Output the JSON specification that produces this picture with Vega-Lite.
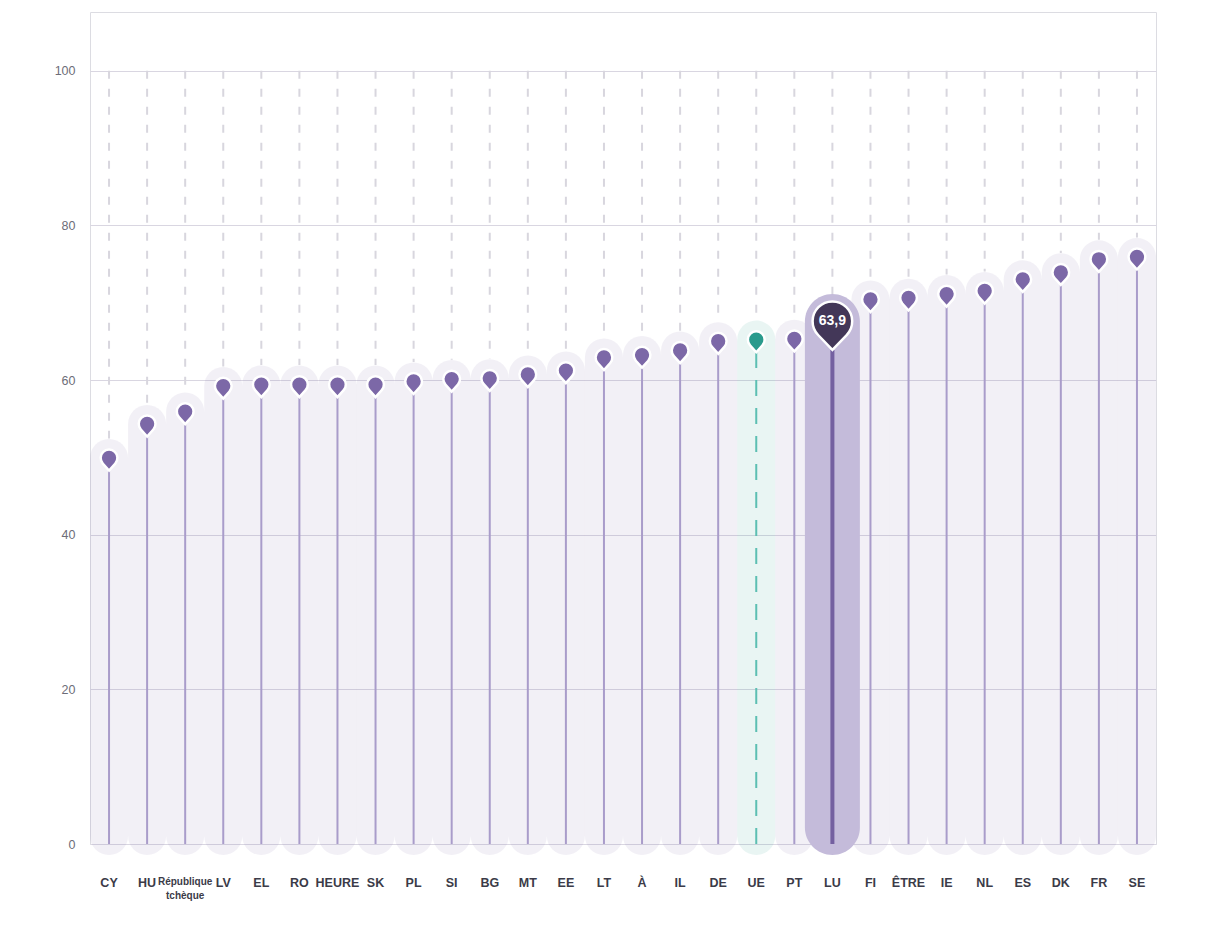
{
  "$schema": "https://vega.github.io/schema/vega-lite/v6.json",
  "width": 1066,
  "height": 832,
  "autosize": "none",
  "padding": {"left": 90, "top": 12, "right": 75, "bottom": 96},
  "background": "#ffffff",
  "config": {
    "view": {"stroke": "#dcdce2", "strokeWidth": 1},
    "font": "Liberation Sans",
    "locale": {
      "number": {"decimal": ",", "thousands": " ", "grouping": [3], "currency": ["", " €"]}
    }
  },
  "data": {
    "values": [
      {"pays": "CY", "value": 48.3},
      {"pays": "HU", "value": 52.7},
      {"pays": "République tchèque", "value": 54.3},
      {"pays": "LV", "value": 57.6},
      {"pays": "EL", "value": 57.8},
      {"pays": "RO", "value": 57.8},
      {"pays": "HEURE", "value": 57.8},
      {"pays": "SK", "value": 57.8},
      {"pays": "PL", "value": 58.2},
      {"pays": "SI", "value": 58.5},
      {"pays": "BG", "value": 58.6},
      {"pays": "MT", "value": 59.1},
      {"pays": "EE", "value": 59.6},
      {"pays": "LT", "value": 61.3},
      {"pays": "À", "value": 61.6},
      {"pays": "IL", "value": 62.2},
      {"pays": "DE", "value": 63.4},
      {"pays": "UE", "value": 63.6},
      {"pays": "PT", "value": 63.7},
      {"pays": "LU", "value": 63.9},
      {"pays": "FI", "value": 68.8},
      {"pays": "ÊTRE", "value": 69.0},
      {"pays": "IE", "value": 69.5},
      {"pays": "NL", "value": 69.9},
      {"pays": "ES", "value": 71.4},
      {"pays": "DK", "value": 72.3},
      {"pays": "FR", "value": 74.0},
      {"pays": "SE", "value": 74.3}
    ]
  },
  "encoding": {
    "x": {
      "field": "pays",
      "type": "nominal",
      "sort": null,
      "scale": {
        "domain": ["CY", "HU", "République tchèque", "LV", "EL", "RO", "HEURE", "SK", "PL", "SI", "BG", "MT", "EE", "LT", "À", "IL", "DE", "UE", "PT", "LU", "FI", "ÊTRE", "IE", "NL", "ES", "DK", "FR", "SE"],
        "paddingInner": 0,
        "paddingOuter": 0
      },
      "axis": {
        "title": null,
        "ticks": false,
        "domain": false,
        "labelAngle": 0,
        "labelPadding": 32,
        "labelFontSize": {"condition": {"test": "datum.value === 'République tchèque'", "value": 10}, "value": 12.5},
        "labelFontWeight": "bold",
        "labelColor": "#3b3b48",
        "labelOverlap": false,
        "labelLineHeight": 14,
        "labelExpr": "split(datum.label, ' ')"
      }
    },
    "y": {
      "field": "value",
      "type": "quantitative",
      "scale": {"domain": [0, 107.6], "nice": false},
      "axis": {
        "title": null,
        "values": [0, 20, 40, 60, 80, 100],
        "ticks": false,
        "domain": false,
        "labelPadding": 15,
        "labelFontSize": 12.5,
        "labelColor": "#6d6d78",
        "gridColor": "#d9d6e1",
        "gridWidth": 1
      }
    }
  },
  "layer": [
    {
      "transform": [{"filter": "datum.pays !== 'LU'"}],
      "mark": {"type": "rule", "color": "#d8d6de", "strokeWidth": 2, "strokeDash": [8, 10], "y2Offset": -32},
      "encoding": {"y": {"datum": 100}, "y2": {"field": "value"}}
    },
    {
      "transform": [{"filter": "datum.pays === 'LU'"}],
      "mark": {"type": "rule", "color": "#d8d6de", "strokeWidth": 2, "strokeDash": [8, 10], "y2Offset": -56},
      "encoding": {"y": {"datum": 100}, "y2": {"field": "value"}}
    },
    {
      "transform": [{"filter": "datum.pays !== 'LU'"}],
      "mark": {"type": "bar", "opacity": 0.1, "cornerRadius": 19, "yOffset": -31.6, "y2Offset": 11},
      "encoding": {
        "y2": {"datum": 0},
        "color": {
          "condition": {"test": "datum.pays === 'UE'", "value": "#2a9a8c"},
          "value": "#7c68a7"
        }
      }
    },
    {
      "transform": [{"filter": "datum.pays === 'LU'"}],
      "mark": {"type": "bar", "color": "#c4bbda", "width": 55, "cornerRadius": 27.5, "yOffset": -56, "y2Offset": 11},
      "encoding": {"y2": {"datum": 0}}
    },
    {
      "transform": [{"filter": "datum.pays !== 'LU' && datum.pays !== 'UE'"}],
      "mark": {"type": "rule", "color": "#a99cca", "strokeWidth": 2},
      "encoding": {"y": {"datum": 0}, "y2": {"field": "value"}}
    },
    {
      "transform": [{"filter": "datum.pays === 'UE'"}],
      "mark": {"type": "rule", "color": "#5cbfb2", "strokeWidth": 2, "strokeDash": [16, 12]},
      "encoding": {"y": {"datum": 0}, "y2": {"field": "value"}}
    },
    {
      "transform": [{"filter": "datum.pays === 'LU'"}],
      "mark": {"type": "rule", "color": "#7460a0", "strokeWidth": 4},
      "encoding": {"y": {"datum": 0}, "y2": {"field": "value"}}
    },
    {
      "transform": [{"filter": "datum.pays !== 'LU'"}],
      "mark": {
        "type": "point",
        "filled": true,
        "opacity": 1,
        "shape": "M0,0 L-0.671,-0.75 A0.9,0.9 0 1 1 0.671,-0.75 Z",
        "size": 346,
        "stroke": "#ffffff",
        "strokeWidth": 2.5
      },
      "encoding": {
        "color": {
          "condition": {"test": "datum.pays === 'UE'", "value": "#2a9a8c"},
          "value": "#7c68a7"
        }
      }
    },
    {
      "transform": [{"filter": "datum.pays === 'LU'"}],
      "mark": {
        "type": "point",
        "filled": true,
        "opacity": 1,
        "shape": "M0,0 L-0.649,-0.677 A0.9,0.9 0 1 1 0.649,-0.677 Z",
        "size": 1936,
        "color": "#433758",
        "stroke": "#ffffff",
        "strokeWidth": 2.5
      },
      "encoding": {}
    },
    {
      "transform": [{"filter": "datum.pays === 'LU'"}],
      "mark": {
        "type": "text",
        "color": "#ffffff",
        "fontSize": 14,
        "fontWeight": "bold",
        "baseline": "middle",
        "align": "center",
        "dy": -28.6
      },
      "encoding": {"text": {"field": "value", "type": "quantitative", "format": ".1f"}}
    }
  ]
}
